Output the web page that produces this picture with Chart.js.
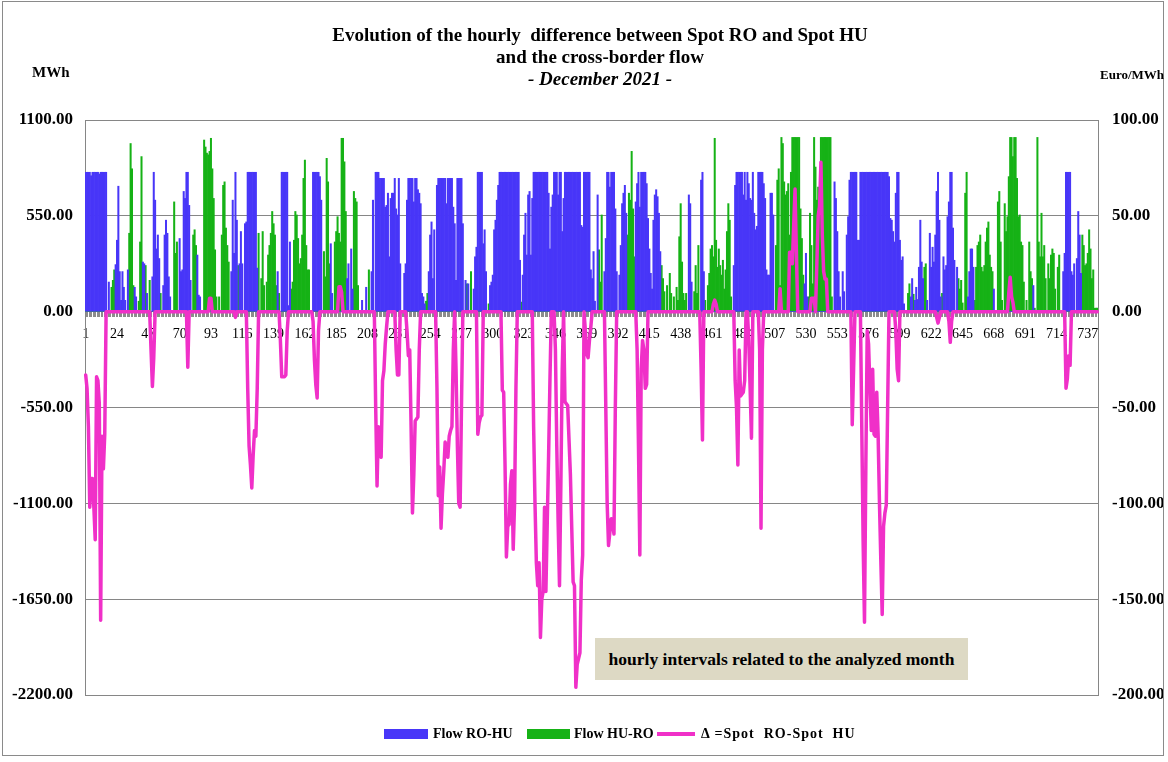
<!DOCTYPE html>
<html><head><meta charset="utf-8">
<script src="https://cdn.jsdelivr.net/npm/chart.js@4.4.1/dist/chart.umd.min.js"></script>
<style>
html,body{margin:0;padding:0;background:#fff;}
#wrap{position:relative;width:1168px;height:762px;font-family:"Liberation Serif","Times New Roman",serif;color:#000;overflow:hidden;}
#c{position:absolute;left:0;top:0;}
.t{position:absolute;font-weight:bold;white-space:nowrap;}
.ctr{left:0;width:1200px;text-align:center;}
.frame{position:absolute;left:2px;top:1px;width:1162px;height:755px;border:1px solid #8a8a8a;box-sizing:border-box;pointer-events:none;}
.lg{position:absolute;top:726px;font-weight:bold;font-size:14px;line-height:16px;white-space:nowrap;}
.box{position:absolute;left:595px;top:638px;width:373px;height:42px;background:#DDD9C4;font-weight:bold;font-size:17.5px;line-height:42px;text-align:center;white-space:nowrap;}
</style></head>
<body>
<div id="wrap">
<canvas id="c" width="1168" height="762"></canvas>
<div class="frame"></div>
<div class="t ctr" style="top:25px;font-size:19px;line-height:20px;">Evolution of the hourly&nbsp; difference between Spot RO and Spot HU</div>
<div class="t ctr" style="top:47px;font-size:19px;line-height:20px;">and the cross-border flow</div>
<div class="t ctr" style="top:69px;font-size:19px;line-height:20px;font-style:italic;">- December 2021 -</div>
<div class="t" style="left:32px;top:63px;font-size:15px;line-height:18px;">MWh</div>
<div class="t" style="left:1100px;top:66px;font-size:13px;line-height:18px;">Euro/MWh</div>
<div class="box">hourly intervals related to the analyzed month</div>
<div style="position:absolute;left:384px;top:729px;width:44px;height:10px;background:#4836F8;"></div>
<div class="lg" style="left:433px;">Flow RO-HU</div>
<div style="position:absolute;left:527px;top:729px;width:43px;height:10px;background:#16B216;"></div>
<div class="lg" style="left:574px;">Flow HU-RO</div>
<div style="position:absolute;left:657px;top:732px;width:38px;height:4px;background:#F030C8;"></div>
<div class="lg" style="left:701px;letter-spacing:1px;">Δ =Spot&nbsp; RO-Spot&nbsp; HU</div>
</div>
<script>
// Hourly flow RO->HU (MWh), one row per day of December 2021
const flowRoHu = [
800,800,800,800,780,800,800,800,800,800,790,800,800,800,800,800,0,170,0,0,0,0,270,410,
720,230,65,230,140,65,0,240,0,0,0,0,140,85,0,0,0,0,285,275,0,105,0,0,
0,200,800,640,360,440,305,0,0,150,440,525,450,200,85,0,0,0,0,0,0,420,230,240,
690,650,800,800,610,180,0,0,0,0,325,95,85,0,0,0,0,0,0,0,0,0,0,0,
0,0,0,0,0,0,0,0,0,0,0,230,640,335,800,525,0,275,460,275,0,505,515,800,
800,800,800,800,800,800,250,0,0,0,0,0,0,0,0,0,0,0,0,0,0,230,0,0,
800,800,800,800,800,35,400,0,0,0,0,0,0,0,0,0,0,0,0,0,0,0,0,800,
800,800,800,800,775,640,0,0,0,0,0,0,390,105,0,0,0,0,0,0,0,0,0,0,
190,275,0,360,130,0,0,0,0,0,0,65,0,0,140,0,0,0,230,640,0,800,800,800,
765,765,765,765,600,610,680,315,650,680,680,765,590,555,765,275,0,0,220,275,640,765,765,765,
765,630,765,765,700,680,620,105,85,45,0,0,230,440,515,190,470,0,725,765,765,765,765,765,
765,620,765,765,765,765,600,505,180,765,765,765,765,505,0,180,0,160,0,0,0,130,315,370,
800,800,800,800,390,470,230,0,0,150,170,210,470,525,640,725,800,800,800,800,800,800,800,800,
800,800,800,800,800,800,800,295,0,210,440,565,325,670,690,325,650,800,800,800,800,800,800,800,
800,800,800,800,680,360,600,670,800,800,800,670,800,800,460,650,800,800,800,800,800,800,800,800,
800,800,800,800,495,485,800,800,800,800,800,240,190,345,60,0,670,0,0,0,0,230,420,800,
800,715,800,800,800,590,230,0,210,380,620,680,725,565,0,0,0,0,0,0,630,735,800,600,
800,800,800,800,735,535,360,220,130,525,670,700,660,565,345,0,0,0,0,0,0,0,0,0,
0,0,0,0,0,0,0,0,0,0,0,670,620,170,0,0,0,0,0,0,755,800,230,0,
0,0,0,0,0,0,0,0,0,0,0,0,0,0,0,0,0,0,0,0,265,725,800,800,
800,800,800,670,800,640,800,735,650,640,800,565,470,490,800,800,800,800,735,650,240,210,210,680,
680,555,0,0,0,0,0,0,0,0,0,0,0,0,0,0,0,0,0,0,0,0,0,0,
160,335,85,0,0,0,0,0,0,0,0,0,0,0,0,0,0,0,0,0,0,0,745,650,
460,230,85,0,230,115,0,440,545,755,800,800,800,800,800,410,410,800,800,800,800,800,800,800,
800,800,800,800,800,800,800,800,800,800,800,800,800,800,775,535,525,460,400,680,800,800,410,295,
315,45,0,0,0,0,85,190,0,65,140,70,255,525,285,190,0,0,65,0,450,255,370,285,
440,690,800,525,85,0,315,240,265,545,630,800,800,480,295,0,255,0,0,0,0,0,0,0,
85,230,360,360,255,0,0,0,0,0,0,0,0,0,0,0,0,0,0,130,0,0,0,0,
0,0,0,0,0,0,0,0,0,0,0,0,0,0,0,0,0,0,0,0,0,0,0,0,
150,0,0,0,0,0,0,0,0,0,0,0,0,0,0,0,0,0,0,0,0,0,230,335,
800,800,800,800,230,210,275,0,305,575,440,220,0,0,0,0,0,0,0,0,0,0,0,0
];
// Hourly flow HU->RO (MWh)
const flowHuRo = [
0,0,0,0,0,0,0,0,0,0,0,0,0,0,0,0,0,0,0,140,180,240,0,0,
0,0,0,0,0,0,0,0,450,965,820,150,0,0,0,60,400,890,0,0,265,0,0,180,
0,0,0,0,0,0,0,105,0,0,0,0,0,0,0,0,0,630,335,400,0,0,0,0,
0,0,0,0,0,0,0,440,470,380,0,0,0,0,0,985,945,910,900,920,995,820,650,355,
85,0,85,0,440,725,745,480,380,285,0,0,0,0,0,0,265,0,0,0,0,0,0,0,
0,0,0,0,0,0,0,450,0,190,460,150,0,170,325,380,450,575,505,440,150,0,105,0,
0,0,0,0,0,0,0,130,170,410,575,555,420,275,305,440,765,870,380,240,240,0,0,0,
0,0,0,0,0,0,0,345,200,880,745,275,0,0,0,400,460,545,450,400,995,995,860,575,
0,0,0,0,0,690,650,630,150,0,0,0,0,0,0,0,240,0,0,0,0,0,0,0,
0,0,0,0,0,0,0,0,0,0,0,0,0,0,0,0,0,0,0,0,0,0,0,0,
0,0,0,0,0,0,0,0,0,0,60,105,0,0,0,0,0,0,0,0,0,0,0,0,
0,0,0,0,0,0,0,0,0,0,0,0,0,0,0,0,160,0,0,230,0,0,0,0,
0,0,0,0,0,0,0,0,45,0,0,0,0,0,0,0,0,0,0,0,0,0,0,0,
0,0,0,0,0,0,0,0,55,0,0,0,0,0,0,0,0,0,0,0,0,0,0,0,
0,0,0,0,0,0,0,0,0,0,0,0,0,0,0,0,0,0,0,0,0,0,0,0,
0,0,0,0,0,0,0,0,0,0,0,0,0,0,0,0,0,355,170,555,0,0,0,0,
0,0,0,0,0,0,0,0,0,0,0,0,0,0,440,680,640,920,590,315,0,0,0,0,
0,0,0,0,0,0,0,0,0,0,0,0,0,0,0,265,190,115,0,150,0,220,105,0,
85,0,140,65,430,620,285,105,65,105,0,0,0,0,0,115,265,105,380,0,0,0,0,65,
0,150,220,360,380,315,995,410,255,360,265,210,295,130,240,460,620,525,85,0,0,0,0,0,
0,0,0,0,0,0,0,0,0,0,0,0,0,0,0,0,0,0,0,0,0,0,0,0,
0,0,0,380,755,820,150,1000,965,745,670,690,735,440,800,1000,1000,1000,1000,1000,1000,590,420,210,
0,0,0,85,565,380,160,1000,830,640,715,620,1000,1000,1000,1000,1000,1000,1000,1000,85,0,0,0,
0,0,0,0,0,0,0,0,0,0,0,0,0,0,0,0,0,0,0,0,0,0,0,0,
0,0,0,0,0,0,0,0,0,0,0,0,0,0,0,0,0,0,0,0,0,0,0,0,
0,0,0,0,105,160,0,0,100,0,0,0,0,0,0,0,255,275,0,0,0,0,0,0,
0,0,0,0,0,105,0,0,0,0,0,0,0,0,0,0,0,190,130,180,50,0,680,800,
0,0,0,0,0,65,255,380,400,440,255,230,265,400,480,515,325,255,230,0,0,0,630,690,
400,65,0,620,460,545,775,1000,1000,890,1000,1000,765,545,555,400,380,170,0,65,0,400,230,190,
0,20,0,1000,400,315,565,315,380,190,0,275,190,325,360,335,130,0,255,325,0,0,0,0,
0,0,0,0,0,0,0,0,0,0,0,0,440,380,265,275,335,470,360,190,240,20,20,20
];
// Hourly price difference Spot RO - Spot HU (Euro/MWh)
const priceDiff = [
-33,-40,-60,-102,-87,-87,-102,-119,-34,-36,-48,-161,-65,-82,-64,0,0,0,0,0,0,0,0,0,
0,0,0,0,0,0,0,0,0,0,0,0,0,0,0,0,0,0,0,0,0,0,0,0,
-20,-39,-24,0,0,0,0,0,0,0,0,0,0,0,0,0,0,0,0,0,0,0,0,0,
0,0,0,-29,0,0,0,0,0,0,0,0,0,0,0,0,0,0,0,7,7,0,0,0,
0,0,0,0,0,0,0,0,0,0,0,0,0,0,-3,0,0,0,0,0,0,0,0,-40,
-70,-80,-92,-75,-62,-65,-40,0,0,0,0,0,0,0,0,0,0,0,0,0,0,0,0,-15,
-34,-34,-34,-33,-10,0,0,0,0,0,0,0,0,0,0,0,0,0,0,0,0,0,0,-5,
-25,-38,-45,-10,0,0,0,0,0,0,0,0,0,0,0,0,0,0,13,13,10,0,0,0,
0,0,0,0,0,0,0,0,0,0,0,0,0,0,0,0,0,0,0,0,0,-50,-91,-60,
-70,-76,-36,-31,-17,-8,0,0,0,0,0,0,-20,-33,-33,0,0,0,0,0,-10,-23,-20,-60,
-105,-85,-57,-56,-55,-20,0,0,0,0,0,0,0,0,0,0,0,0,-40,-96,-81,-113,-95,-83,
-68,-72,-76,-65,-62,-60,-20,0,-30,-70,-100,-102,-50,0,0,0,0,0,0,0,0,0,0,0,
-64,-58,-55,-54,0,0,0,0,0,0,0,0,0,0,0,0,0,0,-41,-42,-80,-128,-112,-111,
-90,-83,-124,-100,-40,0,0,0,0,0,0,0,0,0,0,0,0,-60,-100,-131,-143,-131,-170,-150,
-146,-102,-146,-110,-75,-35,0,0,0,-20,-70,-110,-143,-90,-30,0,-47,-48,-49,-67,-85,-113,-141,-143,
-196,-184,-181,-178,-140,-127,0,-10,-22,-24,-15,-8,0,0,0,0,0,0,0,0,0,0,-50,-100,
-122,-115,-108,-110,-116,-50,0,0,0,0,0,0,0,0,0,0,0,0,0,0,0,-20,-70,-127,
-30,-15,-20,-40,-38,0,0,0,0,0,0,0,0,0,0,0,0,0,0,0,0,0,0,0,
0,0,0,0,0,0,0,0,0,0,0,0,0,0,0,0,0,0,0,0,-30,-67,0,0,
0,0,0,0,0,4,6,4,0,0,0,0,0,0,0,0,0,0,0,0,0,-36,-50,-80,
-20,-44,-43,-42,-36,0,0,-15,-40,-66,0,0,0,0,0,-20,-113,-20,0,0,0,0,0,0,
0,0,0,0,0,0,12,0,0,0,0,0,0,31,31,25,45,64,30,0,0,0,0,0,
0,0,0,0,0,7,7,7,0,25,50,55,78,40,21,17,17,0,0,0,0,0,0,0,
0,0,0,0,0,0,0,0,0,0,0,-59,-30,0,0,0,0,0,-60,-120,-162,-80,-10,-17,
-40,-62,-30,-64,-65,-42,-64,-100,-130,-158,-112,-105,-101,-50,0,0,0,0,0,-10,-30,-36,0,0,
0,0,0,0,0,0,0,0,0,0,0,0,0,0,0,0,0,0,0,0,0,0,0,0,
0,-3,-6,-3,0,0,0,0,0,0,-5,-16,-5,0,0,0,0,0,0,0,0,0,0,0,
0,0,0,0,0,0,0,0,0,0,0,0,0,0,0,0,0,0,0,0,0,0,0,0,
0,0,0,0,0,0,10,18,8,5,0,0,0,0,0,0,0,0,0,0,0,0,0,0,
0,0,0,0,0,0,0,0,0,0,0,0,0,0,0,0,0,0,0,0,0,0,0,0,
-40,-35,-23,-28,0,0,0,0,0,0,0,0,0,0,0,0,0,0,0,0,0,0,0,0
];
// Hour categories 1..744 and the tick labels shown on the category axis
const hours = flowRoHu.map((_, i) => String(i + 1));
const xTickLabels = ['1','24','47','70','93','116','139','162','185','208','231','254','277','300','323','346','369','392','415','438','461','484','507','530','553','576','599','622','645','668','691','714','737'];
const leftTicks = [1100, 550, 0, -550, -1100, -1650, -2200];
const rightTicks = [100, 50, 0, -50, -100, -150, -200];

const FONT = '"Liberation Serif","Times New Roman",serif';
Chart.defaults.font.family = FONT;
Chart.defaults.color = '#000';

new Chart(document.getElementById('c'), {
  type: 'bar',
  data: {
    labels: hours,
    datasets: [
      { type: 'line', label: 'Δ =Spot  RO-Spot HU', data: priceDiff, yAxisID: 'y2',
        borderColor: '#F030C8', backgroundColor: '#F030C8', borderWidth: 3.5, pointRadius: 0,
        tension: 0, fill: false, order: 0, borderJoinStyle: 'round', borderCapStyle: 'round' },
      { label: 'Flow RO-HU', data: flowRoHu, yAxisID: 'y', backgroundColor: '#4836F8',
        borderWidth: 0, barPercentage: 1, categoryPercentage: 1, grouped: false, order: 1 },
      { label: 'Flow HU-RO', data: flowHuRo, yAxisID: 'y', backgroundColor: '#16B216',
        borderWidth: 0, barPercentage: 1, categoryPercentage: 1, grouped: false, order: 2 }
    ]
  },
  options: {
    responsive: false, animation: false, devicePixelRatio: 1,
    layout: { padding: { top: 120, bottom: 67, left: 0, right: 0 } },
    plugins: { legend: { display: false }, tooltip: { enabled: false }, title: { display: false } },
    scales: {
      x: {
        type: 'category', position: { y: 0 },
        grid: { display: true, drawOnChartArea: false, drawTicks: true, tickLength: 5,
                tickColor: '#8c8c8c', tickWidth: 1 },
        border: { display: true, color: '#8c8c8c', width: 1 },
        ticks: {
          autoSkip: false, maxRotation: 0, minRotation: 0, padding: 9,
          font: { size: 14, family: FONT }, color: '#000',
          callback: function (v, i) { const l = hours[i]; return xTickLabels.includes(l) ? l : ''; }
        }
      },
      y: {
        position: 'left', min: leftTicks[leftTicks.length - 1], max: leftTicks[0],
        afterBuildTicks: s => { s.ticks = leftTicks.map(v => ({ value: v })); },
        afterFit: s => { s.width = 85; },
        grid: { color: '#868686', lineWidth: 1, drawTicks: false },
        border: { color: '#868686', width: 1 },
        ticks: { padding: 12, font: { size: 17, weight: 'bold', family: FONT }, color: '#000',
                 callback: v => Number(v).toFixed(2) }
      },
      y2: {
        position: 'right', min: rightTicks[rightTicks.length - 1], max: rightTicks[0],
        afterBuildTicks: s => { s.ticks = rightTicks.map(v => ({ value: v })); },
        afterFit: s => { s.width = 70; },
        grid: { display: false, drawTicks: false },
        border: { color: '#868686', width: 1 },
        ticks: { padding: 14, font: { size: 17, weight: 'bold', family: FONT }, color: '#000',
                 callback: v => Number(v).toFixed(2) }
      }
    }
  }
});
</script>
</body></html>
